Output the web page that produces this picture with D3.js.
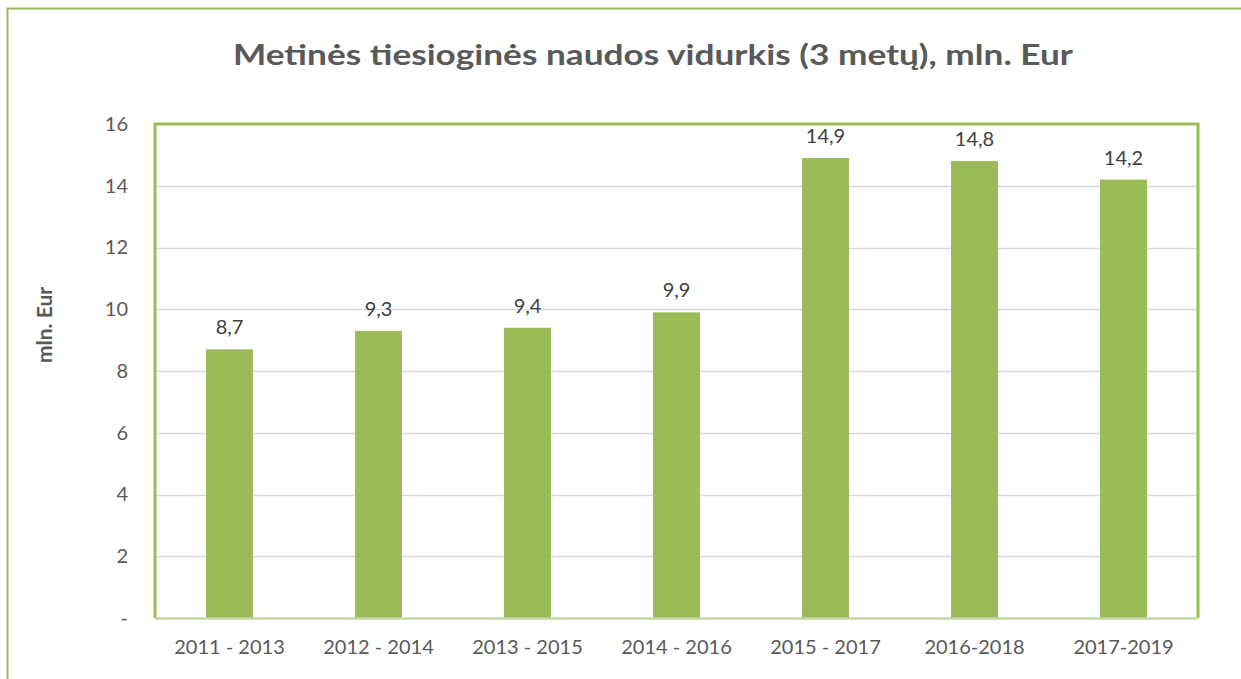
<!DOCTYPE html>
<html><head><meta charset="utf-8">
<script src="https://cdn.jsdelivr.net/npm/d3@7"></script>
<style>body{margin:0;background:#fff}svg{display:block}text{font-family:Lato,"Open Sans",sans-serif}</style>
</head><body><svg id="c" width="1241" height="679"></svg>
<script>
const categories = ["2011 - 2013","2012 - 2014","2013 - 2015","2014 - 2016","2015 - 2017","2016-2018","2017-2019"];
const values = [8.7, 9.3, 9.4, 9.9, 14.9, 14.8, 14.2];
const valueLabels = ["8,7","9,3","9,4","9,9","14,9","14,8","14,2"];
const yTicks = [0,2,4,6,8,10,12,14,16];
const yTickLabels = ["-","2","4","6","8","10","12","14","16"];
const title = "Metinės tiesioginės naudos vidurkis (3 metų), mln. Eur";
const yTitle = "mln. Eur";

const svg = d3.select("#c");
const green = "#9bbb59", textCol = "#595959";
const m = {l:155, t:124, r:1198, b:618};
const F = "Lato,'Open Sans',sans-serif";

svg.append("rect").attr("x",7.5).attr("y",8.5).attr("width",1250).attr("height",700)
  .attr("fill","none").attr("stroke",green).attr("stroke-width",2);

const x = d3.scaleBand().domain(categories).range([m.l,m.r]).paddingInner(0.685).paddingOuter(0.3425);
const y = d3.scaleLinear().domain([0,16]).range([m.b,m.t]);

// gridlines
svg.append("g").selectAll("line").data(yTicks.filter(d=>d>0 && d<16)).join("line")
  .attr("x1",m.l).attr("x2",m.r).attr("y1",d=>Math.round(y(d))+0.5).attr("y2",d=>Math.round(y(d))+0.5)
  .attr("stroke","#d9d9d9").attr("stroke-width",1.5);

// bars
svg.append("g").selectAll("rect").data(values).join("rect")
  .attr("x",(d,i)=>x(categories[i])).attr("width",x.bandwidth())
  .attr("y",d=>y(d)).attr("height",d=>y(0)-y(d)).attr("fill",green);

// value labels
svg.append("g").selectAll("text").data(values).join("text")
  .attr("x",(d,i)=>x(categories[i])+x.bandwidth()/2).attr("y",d=>y(d)-15)
  .attr("text-anchor","middle").attr("font-size",20).attr("fill","#404040")
  .text((d,i)=>valueLabels[i]);

// plot border
svg.append("path").attr("d",`M${m.l},${m.b}V${m.t}H${m.r}V${m.b}`).attr("fill","none")
  .attr("stroke",green).attr("stroke-width",3);
svg.append("line").attr("x1",m.l).attr("x2",m.r).attr("y1",m.b+0.5).attr("y2",m.b+0.5)
  .attr("stroke","#c5d6a4").attr("stroke-width",2.5);

// y axis
const yAxis = d3.axisLeft(y).tickValues(yTicks).tickSize(0).tickPadding(0)
  .tickFormat((d,i)=>yTickLabels[i]);
const ga = svg.append("g").attr("transform",`translate(128,0)`).call(yAxis);
ga.select(".domain").remove();
ga.selectAll("text").attr("font-size",20).attr("fill",textCol).attr("font-family",F);

// x axis
const xAxis = d3.axisBottom(x).tickSize(0).tickPadding(0);
const gx = svg.append("g").attr("transform",`translate(0,${m.b+22})`).call(xAxis);
gx.select(".domain").remove();
gx.selectAll("text").attr("font-size",20).attr("fill",textCol).attr("font-family",F);

// titles
svg.append("text").attr("x",653).attr("y",65).attr("text-anchor","middle")
  .attr("font-size",29).attr("font-weight","bold").attr("fill",textCol)
  .attr("textLength",840).attr("lengthAdjust","spacingAndGlyphs").text(title);
svg.append("text").attr("transform","translate(52,325) rotate(-90)").attr("text-anchor","middle")
  .attr("font-size",21).attr("font-weight","bold").attr("fill",textCol).text(yTitle);
</script></body></html>
